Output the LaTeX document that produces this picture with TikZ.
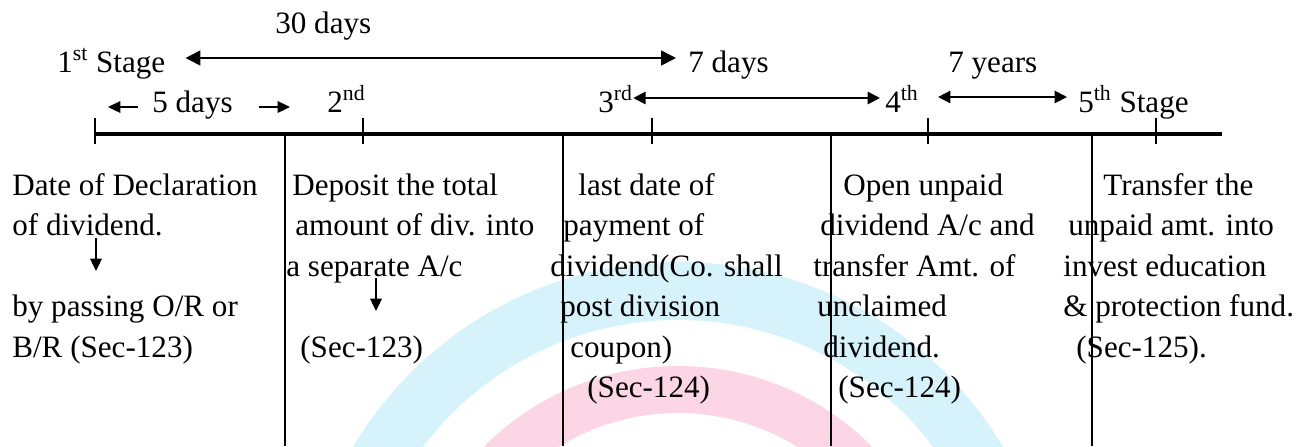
\documentclass[tikz,border=0pt]{standalone}
\usepackage{fontspec}
\setmainfont{Liberation Serif}
\usetikzlibrary{arrows.meta}
\definecolor{wmcyan}{RGB}{214,243,252}
\definecolor{wmpink}{RGB}{252,214,229}
\tikzset{
  lbl/.style   = {font=\fontsize{17.7}{21}\selectfont, inner sep=0pt, anchor=base west},
  dim/.style   = {{Triangle[length=8.5pt,width=8.5pt]}-{Triangle[length=8.5pt,width=8.5pt]},
                  line width=1pt},
  dimsm/.style = {{Triangle[length=7pt,width=7pt]}-{Triangle[length=7pt,width=7pt]},
                  line width=1pt},
  pt/.style    = {-{Triangle[length=7pt,width=6.5pt]}, line width=1.1pt},
  axis/.style  = {line width=2.2pt},
  tick/.style  = {line width=1.2pt},
  sep/.style   = {line width=0.9pt},
}

\begin{document}
\begin{tikzpicture}[x=0.2mm, y=-0.2mm]
  \useasboundingbox (0,0) rectangle (1306,446);
  % pale bands in the back
  \begin{scope}
    \clip (0,0) rectangle (1306,446);
    \fill[wmcyan, even odd rule] (678,640) circle (378) (678,640) circle (320);
    \fill[wmpink, even odd rule] (678,640) circle (274) (678,640) circle (227);
  \end{scope}
  % time line with stage ticks and column rules
  \draw[axis] (94,134) -- (1222,134);
  \foreach \x in {95,363,652,928,1156}
    \draw[tick] (\x,118) -- (\x,144);
  \foreach \x in {285,563,831,1092}
    \draw[sep] (\x,134) -- (\x,446);
  % stage labels and periods
  \node[lbl] (days30) at (275,33) {30 days};
  \node[lbl] (stage1) at (57,72) {1\textsuperscript{st} Stage};
  \node[lbl] (days7) at (688,72) {7 days};
  \node[lbl] (years7) at (948,72) {7 years};
  \node[lbl] (days5) at (152,112) {5 days};
  \node[lbl] (stage2) at (327,112) {2\textsuperscript{nd}};
  \node[lbl] (stage3) at (598,112) {3\textsuperscript{rd}};
  \node[lbl] (stage4) at (885,112) {4\textsuperscript{th}};
  \node[lbl] (stage5) at (1078,112) {5\textsuperscript{th} Stage};
  \draw[dim] ([shift={(20,-14)}]stage1.base east) -- ([shift={(-12,-14)}]days7.base west);
  \draw[dimsm] ([shift={(0,-14)}]stage3.base east) -- ([shift={(-5,-14)}]stage4.base west);
  \draw[dimsm] ([shift={(19,-15)}]stage4.base east) -- ([shift={(-11,-15)}]stage5.base west);
  \coordinate (d5l) at (108,107);
  \coordinate (d5r) at (290,107);
  \draw[pt] ([shift={(-14,-5)}]days5.base west) -- (d5l);
  \draw[pt] ([shift={(26,-5)}]days5.base east) -- (d5r);
  % what happens at each stage
  \foreach \x/\k/\t in {12/0/{Date of Declaration}, 12/1/{of dividend.},
                        12/3/{by passing O/R or}, 12/4/{B/R (Sec-123)}}
    \node[lbl] (b1-\k) at (\x,195+40.5*\k) {\t};
  \foreach \x/\k/\t in {292/0/{Deposit the total}, 295/1/{amount of div. into},
                        286/2/{a separate A/c}, 300/4/{(Sec-123)}}
    \node[lbl] (b2-\k) at (\x,195+40.5*\k) {\t};
  \foreach \x/\k/\t in {578/0/{last date of}, 563/1/{payment of},
                        550/2/{dividend(Co. shall}, 560/3/{post division},
                        570/4/{coupon)}, 587/5/{(Sec-124)}}
    \node[lbl] (b3-\k) at (\x,195+40.5*\k) {\t};
  \foreach \x/\k/\t in {843/0/{Open unpaid}, 820/1/{dividend A/c and},
                        813/2/{transfer Amt. of}, 817/3/{unclaimed},
                        823/4/{dividend.}, 838/5/{(Sec-124)}}
    \node[lbl] (b4-\k) at (\x,195+40.5*\k) {\t};
  \foreach \x/\k/\t in {1103/0/{Transfer the}, 1068/1/{unpaid amt. into},
                        1063/2/{invest education}, 1063/3/{\& protection fund.},
                        1076/4/{(Sec-125).}}
    \node[lbl] (b5-\k) at (\x,195+40.5*\k) {\t};
  \coordinate (v1a) at (96,238);
  \coordinate (v1b) at (96,271);
  \coordinate (v2a) at (376,278);
  \coordinate (v2b) at (376,311);
  \draw[pt] (v1a) -- (v1b);
  \draw[pt] (v2a) -- (v2b);
\end{tikzpicture}
\end{document}
